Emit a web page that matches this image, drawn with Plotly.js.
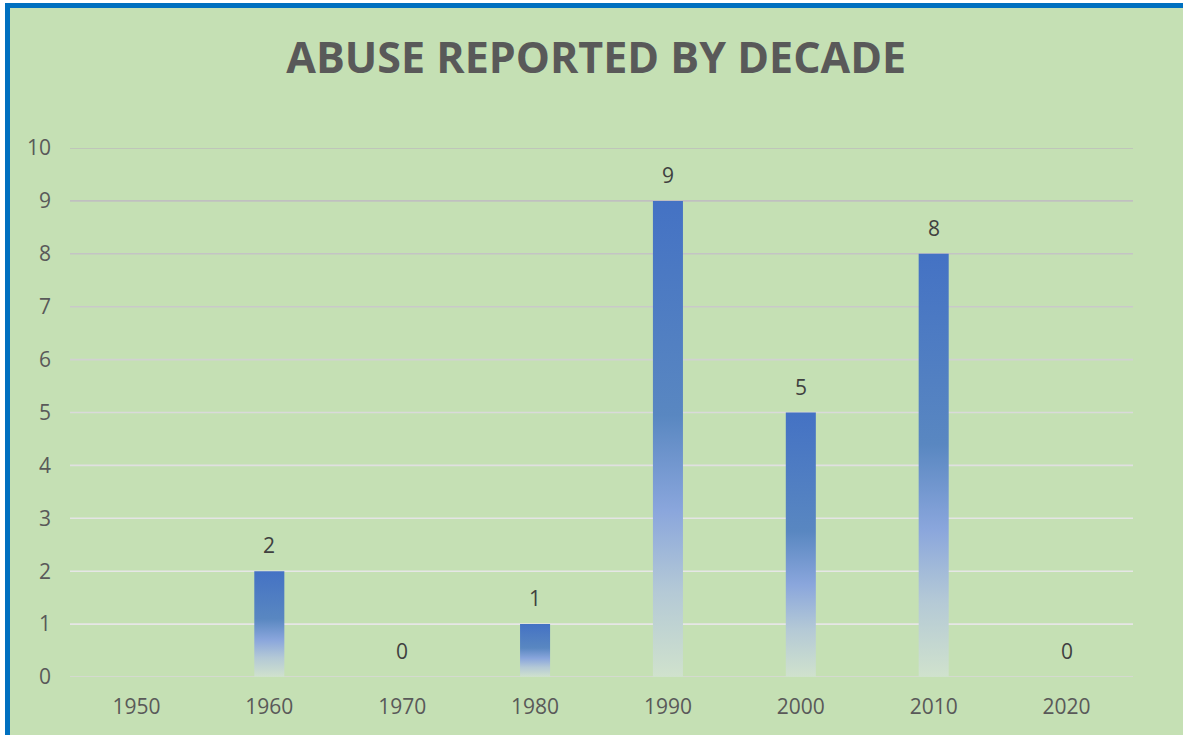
<!DOCTYPE html>
<html>
<head>
<meta charset="utf-8">
<script src="https://cdn.plot.ly/plotly-3.0.1.min.js"></script>
<style>
  html, body { margin: 0; padding: 0; width: 1183px; height: 735px; overflow: hidden; background: #ffffff; }
  #frame { position: absolute; left: 5px; top: 3px; width: 1300px; height: 900px;
           border-left: 5px solid #0070c0; border-top: 5px solid #0070c0; background: #c5e0b4; }
  #chart { position: absolute; left: 0; top: 0; width: 1183px; height: 735px; }
</style>
</head>
<body>
<div id="frame"></div>
<div id="chart"></div>
<script>
// ---- data ----
const decades = ['1950', '1960', '1970', '1980', '1990', '2000', '2010', '2020'];
const reports = [null, 2, 0, 1, 9, 5, 8, 0];
const yTicks = [0, 1, 2, 3, 4, 5, 6, 7, 8, 9, 10];

// ---- styles ----
const gridColors = ['#d9d9d9', '#e6e6e6', '#e6e6e6', '#e4e4e4', '#e0e0e0', '#dadada',
                    '#d1d1d1', '#c9c9c9', '#c4c4c4', '#c0c0c0', '#bdbdbd'];
const font = "'Open Sans', 'Liberation Sans', sans-serif";

const trace = {
  type: 'bar',
  x: decades,
  y: reports,
  marker: { color: '#4472c4', line: { width: 0 } },
  hoverinfo: 'x+y'
};

const shapes = yTicks.map((v, i) => ({
  type: 'line', xref: 'paper', yref: 'y', x0: 0, x1: 1, y0: v, y1: v,
  line: { color: gridColors[i], width: 1.6 }, layer: 'below'
}));

const annotations = decades.map((d, i) => reports[i] === null ? null : ({
  x: i, y: reports[i], xref: 'x', yref: 'y', text: String(reports[i]),
  showarrow: false, yanchor: 'middle', xanchor: 'center', yshift: 26,
  font: { family: font, size: 21, color: '#404040' }
})).filter(a => a !== null);

const layout = {
  width: 1183, height: 735,
  margin: { l: 70, r: 50, t: 148, b: 58 },
  paper_bgcolor: 'rgba(0,0,0,0)',
  plot_bgcolor: 'rgba(0,0,0,0)',
  title: {
    text: '<b>ABUSE REPORTED BY DECADE</b>',
    font: { family: font, size: 43, color: '#595959' },
    x: 0.504, xref: 'container', xanchor: 'center',
    y: 1 - 58 / 735, yref: 'container', yanchor: 'middle'
  },
  bargap: 0.774,
  showlegend: false,
  xaxis: {
    type: 'category',
    categoryorder: 'array', categoryarray: decades,
    range: [-0.5, decades.length - 0.5],
    showgrid: false, zeroline: false, showline: false, ticks: '',
    tickfont: { family: font, size: 21, color: '#595959' },
    ticklabelstandoff: 15,
    fixedrange: true
  },
  yaxis: {
    range: [0, 10], tickvals: yTicks, ticktext: yTicks.map(String),
    showgrid: false, zeroline: false, showline: false, ticks: '',
    tickfont: { family: font, size: 21, color: '#595959' },
    ticklabelstandoff: 18,
    fixedrange: true
  },
  shapes: shapes,
  annotations: annotations
};

Plotly.newPlot('chart', [trace], layout, { displayModeBar: false, staticPlot: true }).then(gd => {
  const svg = gd.querySelector('.main-svg');
  const NS = 'http://www.w3.org/2000/svg';
  let defs = svg.querySelector('defs');
  if (!defs) { defs = document.createElementNS(NS, 'defs'); svg.insertBefore(defs, svg.firstChild); }
  const grad = document.createElementNS(NS, 'linearGradient');
  grad.setAttribute('id', 'barGrad');
  grad.setAttribute('x1', '0'); grad.setAttribute('y1', '0');
  grad.setAttribute('x2', '0'); grad.setAttribute('y2', '1');
  const stops = [
    [0, '#4472c4'], [0.45, '#5987c1'], [0.65, '#8aa6dc'],
    [0.82, '#b4c9d6'], [1, '#d0e2cd']
  ];
  stops.forEach(([o, c]) => {
    const s = document.createElementNS(NS, 'stop');
    s.setAttribute('offset', o);
    s.setAttribute('stop-color', c);
    grad.appendChild(s);
  });
  defs.appendChild(grad);
  gd.querySelectorAll('.barlayer .point path').forEach(p => { p.style.fill = 'url(#barGrad)'; });
});
</script>
</body>
</html>
